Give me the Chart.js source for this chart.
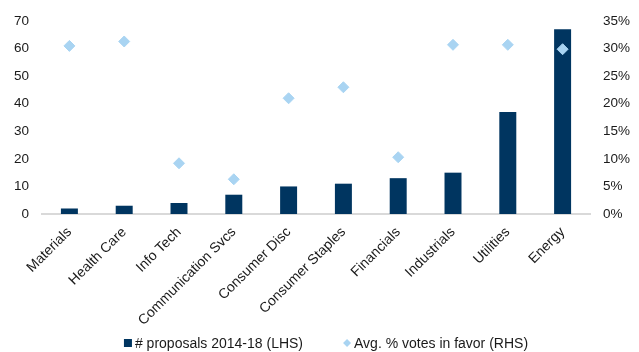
<!DOCTYPE html>
<html>
<head>
<meta charset="utf-8">
<script src="https://cdn.jsdelivr.net/npm/chart.js@4/dist/chart.umd.min.js"></script>
<style>
  html, body { margin: 0; padding: 0; background: #fff; }
  #wrap { width: 639px; height: 352px; }
</style>
</head>
<body>
<div id="wrap"><canvas id="c" width="639" height="352"></canvas></div>
<script>
// Sectors on the category axis
const sectors = ['Materials', 'Health Care', 'Info Tech', 'Communication Svcs', 'Consumer Disc',
                 'Consumer Staples', 'Financials', 'Industrials', 'Utilities', 'Energy'];
// Number of proposals 2014-18 (left axis)
const proposals = [2, 3, 4, 7, 10, 11, 13, 15, 37, 67];
// Average % of votes in favor (right axis)
const votesInFavor = [30.5, 31.3, 9.2, 6.3, 21.0, 23.0, 10.3, 30.7, 30.7, 29.9];
// Axis ranges
const leftMax = 70, leftStep = 10;
const rightMax = 35, rightStep = 5;

const FONT = 'Liberation Sans, Arial, sans-serif';
const TEXT = '#1a1a1a';
const BAR_COLOR = '#003560';
const DOT_COLOR = '#a9d4f2';

// Compact legend under the axis: square for the bars, diamond for the points
const bottomLegend = {
  id: 'bottomLegend',
  afterDraw(chart) {
    const ctx = chart.ctx;
    const ds = chart.data.datasets;
    const items = [
      { text: ds[1].label, color: ds[1].backgroundColor, shape: 'square' },
      { text: ds[0].label, color: ds[0].backgroundColor, shape: 'diamond' }
    ];
    const box = 8, gap = 3, itemGap = 40;
    ctx.save();
    ctx.font = '14px ' + FONT;
    ctx.textBaseline = 'middle';
    ctx.textAlign = 'left';
    const widths = items.map(it => box + gap + ctx.measureText(it.text).width);
    const total = widths.reduce((a, b) => a + b, 0) + itemGap * (items.length - 1);
    const area = chart.chartArea;
    let x = (area.left + area.right) / 2 + 10 - total / 2;
    const y = chart.height - 9;
    items.forEach((it, i) => {
      ctx.fillStyle = it.color;
      if (it.shape === 'square') {
        ctx.fillRect(x, y - box / 2, box, box);
      } else {
        ctx.beginPath();
        ctx.moveTo(x + box / 2, y - box / 2);
        ctx.lineTo(x + box, y);
        ctx.lineTo(x + box / 2, y + box / 2);
        ctx.lineTo(x, y);
        ctx.closePath();
        ctx.fill();
      }
      ctx.fillStyle = TEXT;
      ctx.fillText(it.text, x + box + gap, y + 1);
      x += widths[i] + itemGap;
    });
    ctx.restore();
  }
};

new Chart(document.getElementById('c'), {
  data: {
    labels: sectors,
    datasets: [
      {
        type: 'line',
        label: 'Avg. % votes in favor (RHS)',
        data: votesInFavor,
        yAxisID: 'y1',
        showLine: false,
        pointStyle: 'rectRot',
        pointRadius: 5.5,
        pointHoverRadius: 5.5,
        pointBackgroundColor: DOT_COLOR,
        pointBorderColor: DOT_COLOR,
        backgroundColor: DOT_COLOR,
        borderColor: DOT_COLOR,
        order: 0
      },
      {
        type: 'bar',
        label: '# proposals 2014-18 (LHS)',
        data: proposals,
        yAxisID: 'y',
        backgroundColor: BAR_COLOR,
        borderWidth: 0,
        barPercentage: 0.62,
        categoryPercentage: 0.5,
        order: 1
      }
    ]
  },
  plugins: [bottomLegend],
  options: {
    responsive: false,
    animation: false,
    layout: { padding: { top: 11, right: 0, left: 0, bottom: 22 } },
    plugins: {
      tooltip: { enabled: false },
      legend: { display: false }
    },
    scales: {
      x: {
        grid: { display: false, drawTicks: false },
        border: { display: true, color: '#d9d9d9', width: 2 },
        ticks: {
          color: TEXT,
          font: { family: FONT, size: 14 },
          maxRotation: 45,
          minRotation: 45,
          padding: 10
        },
        afterFit: s => { s.height = 116; }
      },
      y: {
        position: 'left',
        min: 0,
        max: leftMax,
        grid: { display: false, drawTicks: false },
        border: { display: false },
        ticks: {
          stepSize: leftStep,
          color: TEXT,
          font: { family: FONT, size: 13.5 },
          padding: 13
        },
        afterFit: s => { s.width = 42; }
      },
      y1: {
        position: 'right',
        min: 0,
        max: rightMax,
        grid: { display: false, drawTicks: false },
        border: { display: false },
        ticks: {
          stepSize: rightStep,
          color: TEXT,
          font: { family: FONT, size: 13.5 },
          padding: 13,
          callback: v => v + '%'
        },
        afterFit: s => { s.width = 49; }
      }
    }
  }
});
</script>
</body>
</html>
